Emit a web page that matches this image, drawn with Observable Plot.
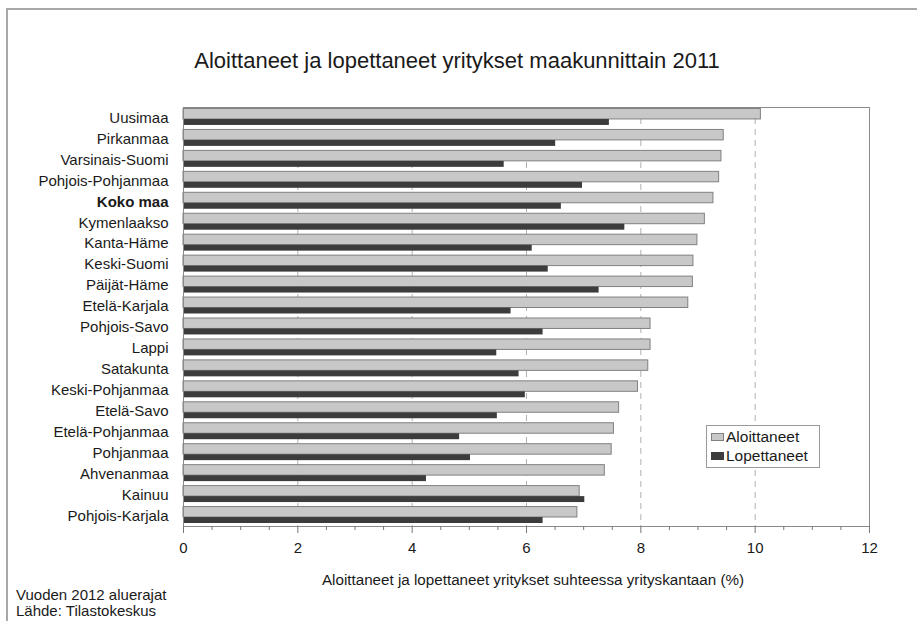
<!DOCTYPE html>
<html>
<head>
<meta charset="utf-8">
<script src="https://cdn.jsdelivr.net/npm/d3@7"></script>
<script src="https://cdn.jsdelivr.net/npm/@observablehq/plot@0.6"></script>
<style>
  html, body { margin: 0; padding: 0; background: #fff; }
  #wrap { position: relative; width: 917px; height: 621px; overflow: hidden; font-family: "Liberation Sans", Arial, sans-serif; color: #1a1a1a; }
  #frame { position: absolute; left: 6px; top: 8px; width: 940px; height: 700px; border-left: 2px solid #a8a8a8; border-top: 2px solid #a8a8a8; }
  #title { position: absolute; left: 0; top: 48px; width: 914px; text-align: center; font-size: 22px; line-height: 26px; }
  #chart { position: absolute; left: 0; top: 90px; }
  #xlabel { position: absolute; left: 533px; top: 571px; transform: translateX(-50%); font-size: 15.2px; line-height: 18px; white-space: nowrap; }
  #notes { position: absolute; left: 16px; top: 587px; font-size: 15px; line-height: 15.5px; }
  #legend { position: absolute; left: 706px; top: 425px; width: 112px; height: 41px; border: 1px solid #9a9a9a; background: #fff; font-size: 15.5px; }
  .li { position: absolute; left: 4px; height: 18px; line-height: 18px; white-space: nowrap; }
  .sw { display: inline-block; width: 11px; height: 6px; margin-right: 2px; vertical-align: 1px; }
</style>
</head>
<body>
<div id="wrap">
  <div id="frame"></div>
  <div id="title">Aloittaneet ja lopettaneet yritykset maakunnittain 2011</div>
  <div id="chart"></div>
  <div id="xlabel">Aloittaneet ja lopettaneet yritykset suhteessa yrityskantaan (%)</div>
  <div id="notes">Vuoden 2012 aluerajat<br>Lähde: Tilastokeskus</div>
  <div id="legend">
    <div class="li" style="top:2px"><span class="sw" style="background:#c8c8c8;border:1px solid #808080"></span>Aloittaneet</div>
    <div class="li" style="top:21px"><span class="sw" style="background:#3c3c3c;border:1px solid #3c3c3c"></span>Lopettaneet</div>
  </div>
</div>
<script>
const regions = ["Uusimaa","Pirkanmaa","Varsinais-Suomi","Pohjois-Pohjanmaa","Koko maa","Kymenlaakso","Kanta-Häme","Keski-Suomi","Päijät-Häme","Etelä-Karjala","Pohjois-Savo","Lappi","Satakunta","Keski-Pohjanmaa","Etelä-Savo","Etelä-Pohjanmaa","Pohjanmaa","Ahvenanmaa","Kainuu","Pohjois-Karjala"];
const aloittaneet = [10.10,9.45,9.41,9.37,9.27,9.12,8.99,8.92,8.91,8.83,8.17,8.17,8.13,7.95,7.62,7.53,7.49,7.37,6.93,6.89];
const lopettaneet = [7.45,6.51,5.61,6.98,6.61,7.72,6.10,6.38,7.27,5.73,6.29,5.48,5.87,5.98,5.49,4.83,5.02,4.25,7.02,6.29];
const boldRegion = "Koko maa";
const majorTicks = [0,2,4,6,8,10,12];
const minorTicks = [0.5,1,1.5,2.5,3,3.5,4.5,5,5.5,6.5,7,7.5,8.5,9,9.5,10.5,11,11.5];
const gridTicks = [2,4,6,8,10];

const rowsA = regions.map((r, i) => ({region: r, value: aloittaneet[i]}));
const rowsL = regions.map((r, i) => ({region: r, value: lopettaneet[i]}));

const chart = Plot.plot({
  width: 917,
  height: 470,
  marginTop: 17,
  marginBottom: 34,
  marginLeft: 183,
  marginRight: 48,
  style: {fontFamily: "'Liberation Sans', Arial, sans-serif", fontSize: "15px", color: "#1a1a1a", background: "transparent"},
  x: {domain: [0, 12]},
  y: {domain: regions, padding: 0, round: false},
  marks: [
    Plot.gridX({ticks: gridTicks, stroke: "#b0b0b0", strokeOpacity: 1, strokeDasharray: "6,5"}),
    Plot.barX(rowsA, {x: "value", y: "region", fill: "#c8c8c8", stroke: "#808080", strokeWidth: 1, insetTop: 1.5, insetBottom: 9}),
    Plot.barX(rowsL, {x: "value", y: "region", fill: "#3c3c3c", insetTop: 12, insetBottom: 3}),
    Plot.frame({stroke: "#8a8a8a"}),
    Plot.axisX({ticks: minorTicks, tickSize: 4, tickFormat: () => "", stroke: "#777", label: null}),
    Plot.axisX({ticks: majorTicks, tickSize: 7, tickPadding: 9, stroke: "#777", fontSize: 15, label: null}),
    Plot.axisY({ticks: regions.filter(r => r !== boldRegion), tickSize: 0, tickPadding: 15, fontSize: 15, label: null}),
    Plot.axisY({ticks: [boldRegion], tickSize: 0, tickPadding: 15, fontSize: 15, fontWeight: "bold", label: null})
  ]
});
document.getElementById("chart").appendChild(chart);
</script>
</body>
</html>
